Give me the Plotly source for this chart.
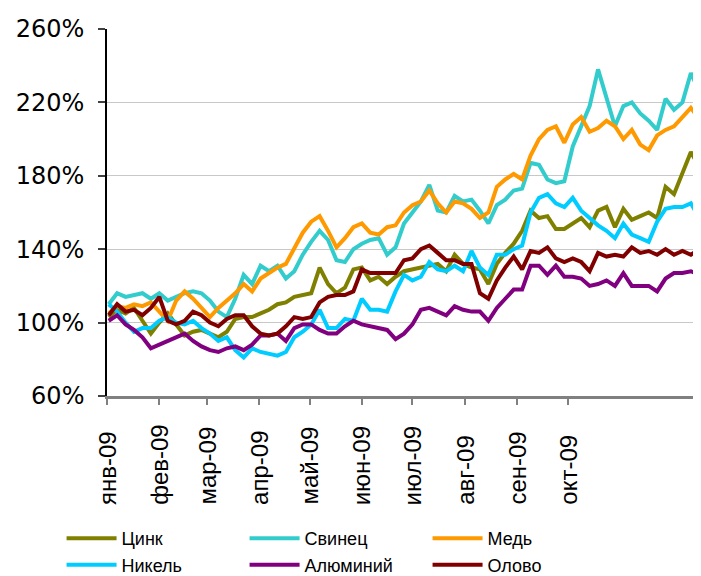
import pandas as pd
import plotly.graph_objects as go

# ---- data (index vs. start of 2009, %) ----
dates = pd.date_range("2009-01-02", periods=71, freq="5D")

zinc = [103, 107, 105, 108, 101, 94, 100, 105, 99, 93, 95, 96, 94, 92, 95, 102, 103, 103, 105, 107,
        110, 111, 114, 115, 116, 130, 121, 116, 119, 129, 130, 123, 125, 121, 125, 128, 129, 130, 131, 132,
        128, 137, 132, 130, 129, 121, 132, 138, 143, 150, 161, 157, 158, 151, 151, 154, 157, 152, 161, 163,
        152, 162, 156, 158, 160, 157, 174, 170, 182, 193, 185]
lead = [110, 116, 114, 115, 116, 113, 116, 112, 114, 116, 117, 116, 112, 106, 103, 113, 126, 121, 131, 128,
        131, 124, 128, 137, 144, 150, 145, 134, 133, 140, 143, 145, 146, 137, 141, 154, 160, 166, 175, 161,
        160, 169, 166, 167, 161, 154, 164, 167, 172, 173, 187, 186, 178, 176, 177, 196, 207, 218, 238, 222,
        207, 218, 220, 214, 210, 205, 222, 216, 220, 236, 226]
copper = [105, 109, 108, 110, 109, 111, 106, 101, 112, 117, 113, 108, 103, 108, 112, 116, 121, 117, 124, 127,
          130, 132, 140, 149, 155, 158, 150, 141, 146, 152, 154, 149, 148, 152, 153, 160, 164, 166, 172, 165,
          160, 166, 165, 162, 157, 160, 174, 178, 181, 178, 191, 200, 205, 207, 198, 208, 212, 204, 206, 210,
          207, 200, 205, 197, 194, 202, 205, 207, 212, 217, 211]
nickel = [110, 106, 100, 95, 97, 97, 101, 103, 100, 99, 101, 97, 94, 90, 92, 85, 81, 86, 84, 83,
          82, 84, 92, 95, 99, 107, 97, 97, 102, 101, 113, 107, 107, 106, 117, 126, 123, 125, 133, 129,
          128, 131, 128, 139, 130, 126, 137, 137, 140, 142, 160, 168, 170, 165, 163, 168, 161, 157, 153, 150,
          146, 154, 148, 146, 144, 155, 162, 163, 163, 165, 157]
aluminium = [101, 104, 99, 96, 92, 86, 88, 90, 92, 94, 90, 87, 85, 84, 86, 87, 85, 88, 93, 93,
             94, 90, 97, 99, 99, 96, 94, 94, 98, 101, 99, 98, 97, 96, 91, 94, 99, 107, 108, 106,
             104, 109, 107, 106, 106, 101, 108, 113, 118, 118, 131, 131, 126, 131, 125, 125, 124, 120, 121, 123,
             120, 127, 120, 120, 120, 117, 124, 127, 127, 128, 126]
tin = [104, 110, 106, 107, 104, 108, 114, 101, 99, 101, 106, 104, 100, 98, 102, 104, 104, 98, 94, 93,
       94, 98, 103, 102, 103, 111, 114, 115, 115, 117, 129, 127, 127, 127, 127, 134, 135, 140, 142, 138,
       134, 134, 132, 132, 116, 113, 123, 130, 136, 129, 139, 138, 141, 135, 133, 135, 133, 128, 138, 136,
       137, 136, 141, 138, 139, 137, 140, 137, 139, 137, 140]

series_names = ["Цинк", "Свинец", "Медь", "Никель", "Алюминий", "Олово"]
series_values = [zinc, lead, copper, nickel, aluminium, tin]
series_colors = ["#808000", "#33CCCC", "#FF9900", "#00CCFF", "#800080", "#800000"]

month_starts = pd.date_range("2009-01-01", periods=10, freq="MS")
month_labels = ["янв-09", "фев-09", "мар-09", "апр-09", "май-09",
                "июн-09", "июл-09", "авг-09", "сен-09", "окт-09"]

y_ticks = [60, 100, 140, 180, 220, 260]
y_labels = [f"{v}%" for v in y_ticks]

fig = go.Figure()
for name, vals, col in zip(series_names, series_values, series_colors):
    fig.add_trace(go.Scatter(x=dates, y=vals, mode="lines", name=name,
                             line=dict(color=col, width=4)))

for d, lab in zip(month_starts, month_labels):
    fig.add_annotation(x=d, xref="x", y=-0.3025, yref="paper", text=lab,
                       textangle=-90, showarrow=False, xanchor="center", yanchor="bottom",
                       font=dict(family="Liberation Sans, Arial, sans-serif", size=24, color="#000000"))

# page body has an 8px margin: offsets compensate so the plot area lands at 107..701 x 29..396
fig.update_layout(
    width=701, height=576,
    margin=dict(l=99, r=8, t=21, b=188, autoexpand=False),
    paper_bgcolor="white", plot_bgcolor="white",
    showlegend=True,
    legend=dict(orientation="h", x=-0.0765, xanchor="left", y=-0.338, yanchor="top",
                entrywidth=118, entrywidthmode="pixels", itemwidth=50,
                font=dict(family="Liberation Sans, Arial, sans-serif", size=18, color="#000000"),
                tracegroupgap=0, bgcolor="rgba(0,0,0,0)"),
    xaxis=dict(type="date", range=["2009-01-01", "2009-12-19"],
               tickmode="array", tickvals=list(month_starts), showticklabels=False,
               ticks="outside", ticklen=6, tickcolor="#808080", tickwidth=1.5,
               showgrid=False, showline=True, linecolor="#808080", linewidth=2.5,
               zeroline=False, automargin=False),
    yaxis=dict(range=[60, 260], tickmode="array", tickvals=y_ticks, ticktext=y_labels,
               ticks="outside", ticklen=7, tickcolor="#404040", tickwidth=1.5,
               ticklabelstandoff=9, automargin=False,
               showgrid=True, gridcolor="#C8C8C8", gridwidth=1,
               showline=True, linecolor="#000000", linewidth=1.5, zeroline=False,
               tickfont=dict(family="DejaVu Sans, Verdana, sans-serif", size=24, color="#000000")),
)

fig.write_html("out.html")
